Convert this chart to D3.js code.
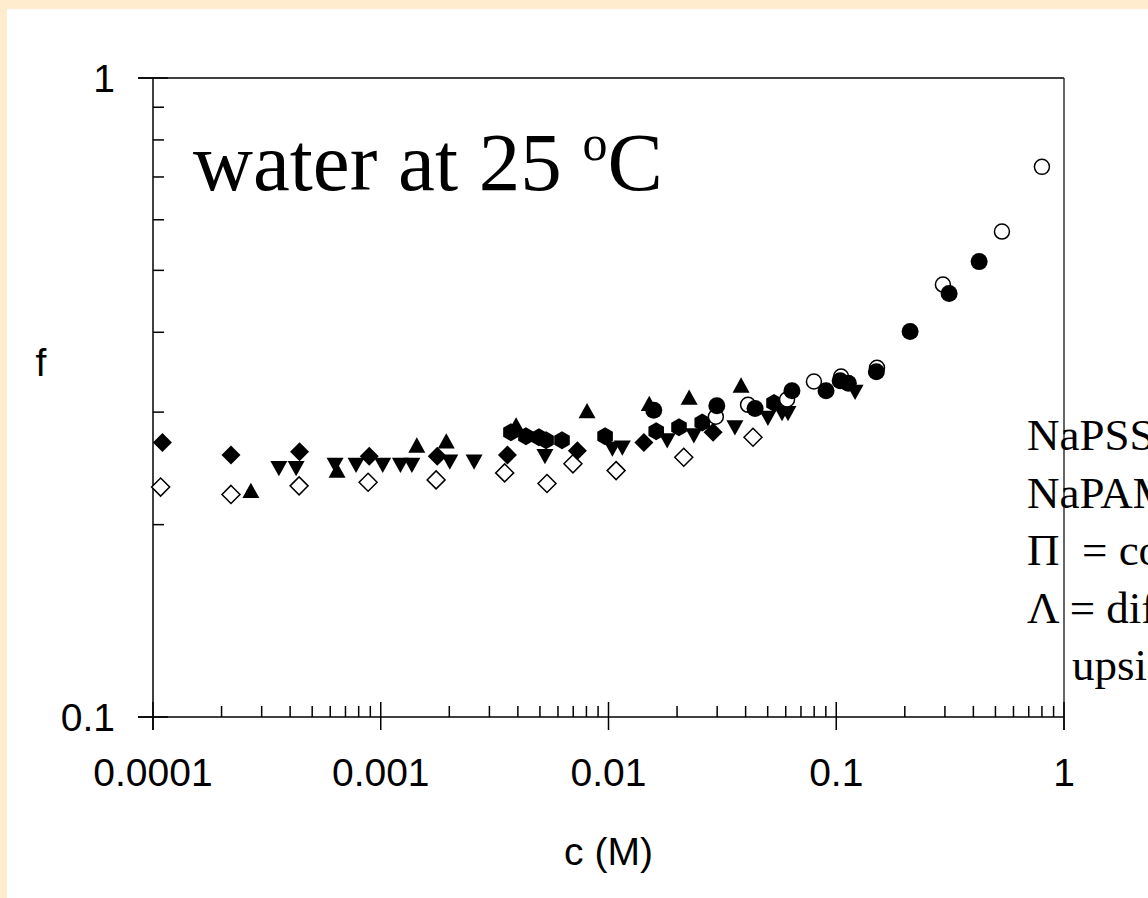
<!DOCTYPE html>
<html>
<head>
<meta charset="utf-8">
<script src="https://cdn.jsdelivr.net/npm/d3@7"></script>
<style>
  html, body { margin: 0; padding: 0; background: #fff; }
  svg { display: block; }
</style>
</head>
<body>
<div id="main"></div>
<script>
const ctx = {
    w: 1148,
    h: 898,
};

// concentration (M) / f values, one pair of arrays per marker type
const filledDiamondC = [1.1e-4, 2.2e-4, 4.4e-4, 8.9e-4, 1.77e-3, 3.6e-3, 7.3e-3, 0.0143, 0.0288];
const filledDiamondF = [0.269, 0.257, 0.260, 0.256, 0.256, 0.257, 0.261, 0.269, 0.279];

const openDiamondC = [1.08e-4, 2.2e-4, 4.38e-4, 8.8e-4, 1.75e-3, 3.5e-3, 5.37e-3, 6.98e-3, 0.0108, 0.0214, 0.0431];
const openDiamondF = [0.229, 0.223, 0.230, 0.233, 0.235, 0.241, 0.232, 0.249, 0.243, 0.255, 0.274];

const triUpC = [2.69e-4, 6.43e-4, 1.44e-3, 1.94e-3, 3.93e-3, 8.05e-3, 0.0151, 0.0226, 0.0382];
const triUpF = [0.225, 0.242, 0.265, 0.269, 0.285, 0.300, 0.308, 0.315, 0.329];

const triDownC = [3.57e-4, 4.25e-4, 6.3e-4, 7.79e-4, 1.02e-3, 1.22e-3, 1.37e-3, 2.01e-3, 2.57e-3, 5.26e-3,
                  0.0104, 0.0115, 0.0181, 0.0237, 0.0359, 0.0501, 0.0578, 0.0614, 0.121];
const triDownF = [0.246, 0.246, 0.249, 0.249, 0.249, 0.249, 0.249, 0.252, 0.252, 0.257,
                  0.264, 0.265, 0.272, 0.277, 0.285, 0.295, 0.300, 0.300, 0.324];

const hexC = [3.73e-3, 4.34e-3, 4.95e-3, 5.32e-3, 6.25e-3, 9.66e-3, 0.0162, 0.0204, 0.0258, 0.0533];
const hexF = [0.279, 0.275, 0.274, 0.271, 0.271, 0.275, 0.280, 0.284, 0.289, 0.310];

const openCircleC = [0.0296, 0.0410, 0.0608, 0.0798, 0.105, 0.151, 0.294, 0.534, 0.800];
const openCircleF = [0.295, 0.308, 0.314, 0.335, 0.341, 0.352, 0.475, 0.575, 0.726];

const filledCircleC = [0.0158, 0.0299, 0.0440, 0.0639, 0.0902, 0.104, 0.113, 0.150, 0.211, 0.313, 0.424];
const filledCircleF = [0.302, 0.307, 0.304, 0.324, 0.324, 0.336, 0.333, 0.347, 0.401, 0.460, 0.516];

const xTickValues = [0.0001, 0.001, 0.01, 0.1, 1];
const xTickLabels = ["0.0001", "0.001", "0.01", "0.1", "1"];
const yTickValues = [0.1, 1];
const yTickLabels = ["0.1", "1"];

// side note; the picture cuts it off at the right edge
const noteLines = ["NaPSS", "NaPAMPS", "\u03A0  = conductivity", "\u039B = diffusion", "    upside down"];

function zip(cs, fs) {
    return cs.map((c, i) => ({c: c, f: fs[i]}));
}

// marker shapes, centred on 0,0
function diamondPath(r) {
    return `M0,${-r}L${r},0L0,${r}L${-r},0Z`;
}
function triUpPath(s) {
    let h = s * 0.9;
    return `M0,${-h * 0.6}L${s / 2},${h * 0.4}L${-s / 2},${h * 0.4}Z`;
}
function triDownPath(s) {
    let h = s * 0.9;
    return `M0,${h * 0.6}L${s / 2},${-h * 0.4}L${-s / 2},${-h * 0.4}Z`;
}
function hexPath(r) {
    let pts = d3.range(6).map(i => {
        let a = Math.PI / 6 + i * Math.PI / 3;
        return [r * Math.cos(a), r * Math.sin(a)];
    });
    return "M" + pts.map(p => p.join(",")).join("L") + "Z";
}

function createChart(svg) {
    let x = d3.scaleLog().domain([1e-4, 1]).range([153, 1064]);
    let y = d3.scaleLog().domain([0.1, 1]).range([717, 78]);

    // cream frame strips
    svg.append("rect").attr("x", 0).attr("y", 0).attr("width", ctx.w).attr("height", 9).attr("fill", "#FFECCF");
    svg.append("rect").attr("x", 0).attr("y", 0).attr("width", 7).attr("height", ctx.h).attr("fill", "#FFECCF");

    let axes = svg.append("g").attr("stroke", "#000").attr("stroke-width", 1.5).attr("fill", "none");
    let x0 = x(1e-4), x1 = x(1), y0 = y(0.1), y1 = y(1);

    // spines
    axes.append("line").attr("x1", x0 - 15).attr("x2", x1).attr("y1", y0).attr("y2", y0);
    axes.append("line").attr("x1", x0).attr("x2", x0).attr("y1", y1).attr("y2", y0 + 13);
    axes.append("line").attr("x1", x0 - 15).attr("x2", x1).attr("y1", y1).attr("y2", y1);
    axes.append("line").attr("x1", x1).attr("x2", x1).attr("y1", y1).attr("y2", y0 + 13)
        .attr("stroke", "#333");

    // x ticks
    let xMinor = [];
    xTickValues.slice(0, -1).forEach(v => d3.range(2, 10).forEach(k => xMinor.push(v * k)));
    axes.selectAll(".xmaj").data(xTickValues).enter().append("line")
        .attr("x1", d => x(d)).attr("x2", d => x(d))
        .attr("y1", y0 - 15).attr("y2", y0 + 13);
    axes.selectAll(".xmin").data(xMinor).enter().append("line")
        .attr("x1", d => x(d)).attr("x2", d => x(d))
        .attr("y1", y0 - 11).attr("y2", y0);

    // y ticks
    let yMinor = d3.range(2, 10).map(k => 0.1 * k);
    axes.selectAll(".ymaj").data(yTickValues).enter().append("line")
        .attr("x1", x0 - 15).attr("x2", x0 + 15)
        .attr("y1", d => y(d)).attr("y2", d => y(d));
    axes.selectAll(".ymin").data(yMinor).enter().append("line")
        .attr("x1", x0).attr("x2", x0 + 11)
        .attr("y1", d => y(d)).attr("y2", d => y(d));

    let sans = "'Liberation Sans', Arial, sans-serif";
    let serif = "'Liberation Serif', 'Times New Roman', serif";

    svg.selectAll(".xlab").data(xTickValues).enter().append("text")
        .attr("x", d => x(d)).attr("y", y0 + 69)
        .attr("text-anchor", "middle")
        .style("font-family", sans).style("font-size", "39px")
        .text((d, i) => xTickLabels[i]);

    svg.selectAll(".ylab").data(yTickValues).enter().append("text")
        .attr("x", x0 - 38).attr("y", d => y(d) + 14)
        .attr("text-anchor", "end")
        .style("font-family", sans).style("font-size", "39px")
        .text((d, i) => yTickLabels[i]);

    svg.append("text").attr("x", (x0 + x1) / 2).attr("y", 865)
        .attr("text-anchor", "middle")
        .style("font-family", sans).style("font-size", "39px")
        .text("c (M)");

    svg.append("text").attr("x", 41).attr("y", 376)
        .attr("text-anchor", "middle")
        .style("font-family", sans).style("font-size", "39px")
        .text("f");

    // title with superscript
    let title = svg.append("text").attr("x", 193).attr("y", 190)
        .style("font-family", serif).style("font-size", "83px");
    title.append("tspan").text("water at 25 ");
    title.append("tspan").attr("dy", -30).style("font-size", "50px").text("o");
    title.append("tspan").attr("dy", 30).text("C");

    svg.selectAll(".note").data(noteLines).enter().append("text")
        .attr("x", 1027).attr("y", (d, i) => 450 + i * 57.5)
        .attr("xml:space", "preserve")
        .style("font-family", serif).style("font-size", "45px")
        .style("white-space", "pre")
        .text(d => d);

    // markers
    let marks = svg.append("g");

    marks.selectAll(".od").data(zip(openDiamondC, openDiamondF)).enter().append("path")
        .attr("d", diamondPath(9))
        .attr("transform", d => `translate(${x(d.c)},${y(d.f)})`)
        .attr("fill", "#fff").attr("stroke", "#000").attr("stroke-width", 1.5);

    marks.selectAll(".fd").data(zip(filledDiamondC, filledDiamondF)).enter().append("path")
        .attr("d", diamondPath(9.5))
        .attr("transform", d => `translate(${x(d.c)},${y(d.f)})`)
        .attr("fill", "#000");

    marks.selectAll(".tu").data(zip(triUpC, triUpF)).enter().append("path")
        .attr("d", triUpPath(17))
        .attr("transform", d => `translate(${x(d.c)},${y(d.f)})`)
        .attr("fill", "#000");

    marks.selectAll(".td").data(zip(triDownC, triDownF)).enter().append("path")
        .attr("d", triDownPath(17))
        .attr("transform", d => `translate(${x(d.c)},${y(d.f)})`)
        .attr("fill", "#000");

    marks.selectAll(".hx").data(zip(hexC, hexF)).enter().append("path")
        .attr("d", hexPath(9))
        .attr("transform", d => `translate(${x(d.c)},${y(d.f)})`)
        .attr("fill", "#000");

    marks.selectAll(".oc").data(zip(openCircleC, openCircleF)).enter().append("circle")
        .attr("cx", d => x(d.c)).attr("cy", d => y(d.f)).attr("r", 7.5)
        .attr("fill", "#fff").attr("stroke", "#000").attr("stroke-width", 1.5);

    marks.selectAll(".fc").data(zip(filledCircleC, filledCircleF)).enter().append("circle")
        .attr("cx", d => x(d.c)).attr("cy", d => y(d.f)).attr("r", 8.5)
        .attr("fill", "#000");
}

function createViz() {
    let svgEl = d3.select("#main").append("svg");
    svgEl.attr("width", ctx.w);
    svgEl.attr("height", ctx.h);
    createChart(svgEl);
}

createViz();
</script>
</body>
</html>
